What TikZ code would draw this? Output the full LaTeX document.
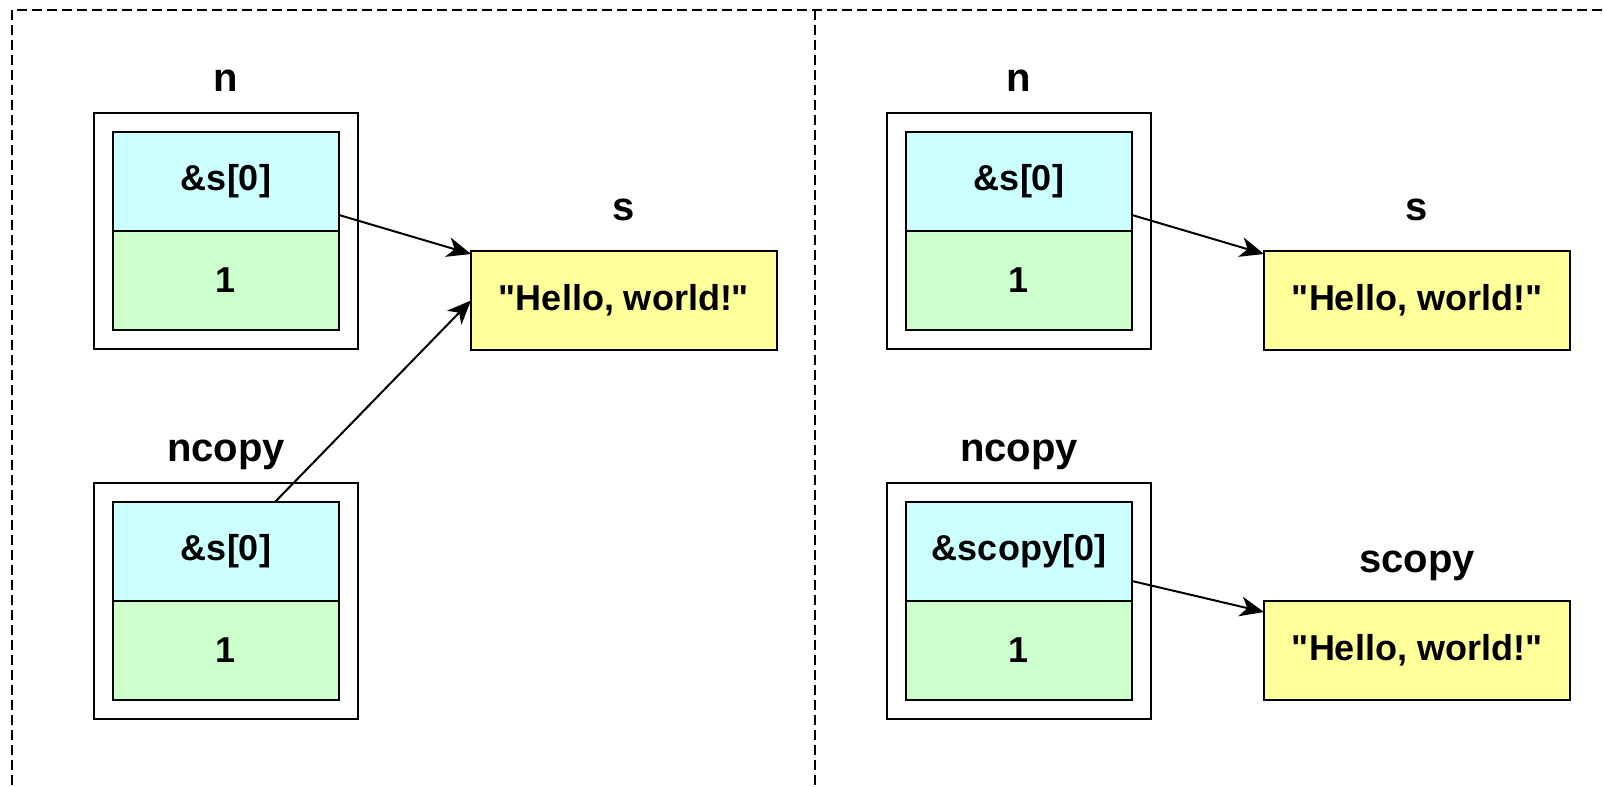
\documentclass[tikz,border=0pt]{standalone}
\usepackage{fontspec}
\setmainfont{Liberation Sans}
\usetikzlibrary{positioning, fit, arrows.meta}

\definecolor{ptrblue}{HTML}{CCFFFF}
\definecolor{valgreen}{HTML}{CCFFCC}
\definecolor{stryellow}{HTML}{FFFF99}

\newcommand{\strval}{\textquotedbl Hello, world!\textquotedbl}

\tikzstyle{cell} = [rectangle, draw=black, line width=1pt, outer sep=0pt, minimum width=113pt, minimum height=49.5pt, text centered, font=\fontsize{18}{22}\selectfont\bfseries]
\tikzstyle{ptrcell} = [cell, fill=ptrblue]
\tikzstyle{valcell} = [cell, fill=valgreen]
\tikzstyle{strbox} = [cell, fill=stryellow, minimum width=153pt]
\tikzstyle{structbox} = [rectangle, draw=black, line width=1pt, inner sep=9.5pt]
\tikzstyle{varname} = [font=\fontsize{20}{24}\selectfont\bfseries, inner sep=0pt]
\tikzstyle{connector} = [draw, line width=1pt, -{Stealth[length=12pt, width=10pt, inset=3.5pt]}]
\tikzstyle{panel} = [draw=black, line width=0.75pt, dash pattern=on 5pt off 2.5pt]

\begin{document}
\begin{tikzpicture}
    \useasboundingbox (0,0) rectangle (801.5pt,-393.5pt);

    % Panels (cut off at the right and bottom)
    \begin{scope}
        \clip (0,0) rectangle (801.5pt,-393.5pt);
        \draw [panel] (6pt,-400pt) -- (6pt,-5pt) -- (810pt,-5pt);
        \draw [panel] (407.5pt,-5pt) -- (407.5pt,-400pt);
    \end{scope}

    % Left: n and ncopy share s
    \node [ptrcell] (nptr) at (113pt,-90.75pt) {\&s[0]};
    \node [valcell, below=0pt of nptr] (nval) {1};
    \node [structbox, fit=(nptr)(nval)] (nbox) {};
    \node [varname, above=10.5pt of nbox, anchor=base] (nname) {n};

    \node [strbox, right=56pt of nbox.south east, anchor=south west] (s) {\strval};
    \node [varname, above=15.5pt of s, anchor=base] (sname) {s};

    \node [ptrcell, below=86pt of nval] (cptr) {\&s[0]};
    \node [valcell, below=0pt of cptr] (cval) {1};
    \node [structbox, fit=(cptr)(cval)] (cbox) {};
    \node [varname, above=10.5pt of cbox, anchor=base] (cname) {ncopy};

    % Right: ncopy gets its own string
    \node [ptrcell, right=283.5pt of nptr] (nptr2) {\&s[0]};
    \node [valcell, below=0pt of nptr2] (nval2) {1};
    \node [structbox, fit=(nptr2)(nval2)] (nbox2) {};
    \node [varname, above=10.5pt of nbox2, anchor=base] (nname2) {n};

    \node [strbox, right=56pt of nbox2.south east, anchor=south west] (s2) {\strval};
    \node [varname, above=15.5pt of s2, anchor=base] (sname2) {s};

    \node [ptrcell, below=86pt of nval2] (cptr2) {\&scopy[0]};
    \node [valcell, below=0pt of cptr2] (cval2) {1};
    \node [structbox, fit=(cptr2)(cval2)] (cbox2) {};
    \node [varname, above=10.5pt of cbox2, anchor=base] (cname2) {ncopy};

    \node [strbox, below=125.5pt of s2] (scopy) {\strval};
    \node [varname, above=14.5pt of scopy, anchor=base] (scname) {scopy};

    % Arrows
    \path [connector] ([yshift=-16.75pt]nptr.east) -- ([yshift=-1.5pt]s.north west);
    \path [connector] ([xshift=24.5pt]cptr.north) -- (s.west);
    \path [connector] ([yshift=-16.75pt]nptr2.east) -- ([yshift=-1.5pt]s2.north west);
    \path [connector] ([yshift=-14.75pt]cptr2.east) -- ([yshift=-5.5pt]scopy.north west);
\end{tikzpicture}
\end{document}
